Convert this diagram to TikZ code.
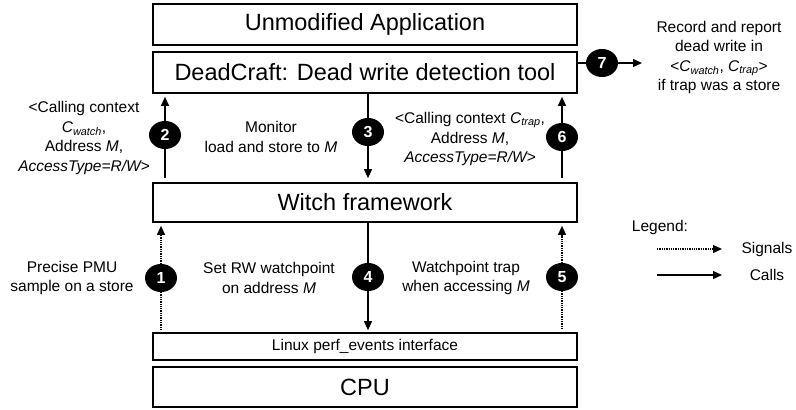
\documentclass[tikz,border=0pt]{standalone}
\usepackage{fontspec}
\setmainfont{Liberation Sans}
\usetikzlibrary{arrows.meta, shapes.geometric}

\newcommand{\cwatch}{\textit{C}\textsubscript{\textit{watch}}}
\newcommand{\ctrap}{\textit{C}\textsubscript{\textit{trap}}}

\tikzset{
  layer/.style={draw, line width=1.7pt, minimum width=424pt, inner sep=0pt,
    font=\fontsize{23.5}{27}\selectfont},
  stepnum/.style={ellipse, fill=black, text=white, minimum width=32pt,
    minimum height=28pt, inner sep=0pt, font=\fontsize{16}{16}\selectfont\bfseries},
  lbl/.style={align=center, font=\fontsize{15.5}{19.5}\selectfont},
  callline/.style={line width=1.3pt},
  sigline/.style={line width=1.3pt, densely dotted},
  call/.style={callline, -{Triangle[length=9pt,width=8pt]}},
  signal/.style={sigline, -{Triangle[length=9pt,width=8pt]}},
}

\begin{document}
\begin{tikzpicture}[x=1pt, y=-1pt]
    \useasboundingbox (0,0) rectangle (796,410);

    % Các tầng
    \node[layer, minimum height=41pt] (app) at (365,24.5) {Unmodified Application};
    \node[layer, minimum height=41pt] (dead) at (365,72.5) {DeadCraft: Dead write detection tool};
    \node[layer, minimum height=39pt] (witch) at (365,202.5) {Witch framework};
    \node[layer, minimum height=27pt, font=\fontsize{15.5}{18}\selectfont] (perf) at (365,346.5) {Linux perf\_events interface};
    \node[layer, minimum height=40pt] (cpu) at (365,387) {CPU};

    % Các bước đánh số
    \node[stepnum] (n1) at (161,278) {1};
    \node[stepnum] (n2) at (165,135) {2};
    \node[stepnum] (n3) at (368,132) {3};
    \node[stepnum] (n4) at (368,277) {4};
    \node[stepnum] (n5) at (562,277) {5};
    \node[stepnum] (n6) at (562,137) {6};
    \node[stepnum] (n7) at (602,63) {7};

    % Nhãn
    \node[lbl] (l1) at (72,278) {Precise PMU\\sample on a store};
    \node[lbl] (l2) at (84,138) {<Calling context\\\cwatch,\\Address \textit{M},\\\textit{AccessType=R/W>}};
    \node[lbl] (l3) at (271,137) {Monitor\\load and store to \textit{M}};
    \node[lbl] (l4) at (269,278) {Set RW watchpoint\\on address \textit{M}};
    \node[lbl] (l5) at (466,278) {Watchpoint trap\\when accessing \textit{M}};
    \node[lbl] (l6) at (470,139) {<Calling context \ctrap,\\Address \textit{M},\\\textit{AccessType=R/W>}};
    \node[lbl] (l7) at (719,57.5) {Record and report\\dead write in\\<\cwatch, \ctrap>\\if trap was a store};

    % Mũi tên giữa các tầng
    \draw[sigline, shorten <=2pt] (perf.north -| n1) -- (n1);
    \draw[signal, shorten >=3pt] (n1) -- (witch.south -| n1);
    \draw[callline, shorten <=4pt] (witch.north -| n2) -- (n2);
    \draw[call, shorten >=3pt] (n2) -- (dead.south -| n2);
    \draw[callline] (dead.south -| n3) -- (n3);
    \draw[call, shorten >=4pt] (n3) -- (witch.north -| n3);
    \draw[callline] (witch.south -| n4) -- (n4);
    \draw[call, shorten >=2pt] (n4) -- (perf.north -| n4);
    \draw[sigline, shorten <=3pt] (perf.north -| n5) -- (n5);
    \draw[signal, shorten >=3pt] (n5) -- (witch.south -| n5);
    \draw[callline, shorten <=4pt] (witch.north -| n6) -- (n6);
    \draw[call, shorten >=3pt] (n6) -- (dead.south -| n6);

    % Bước 7
    \coordinate (out7) at (642,63);
    \draw[callline] (dead.east |- n7) -- (n7);
    \draw[call] (n7) -- (out7);

    % Chú giải
    \node[lbl] (leg) at (660,227) {Legend:};
    \coordinate (sigA) at (657,249);
    \coordinate (sigB) at (722,249);
    \coordinate (callA) at (657,275);
    \coordinate (callB) at (722,275);
    \draw[signal] (sigA) -- (sigB);
    \draw[call] (callA) -- (callB);
    \node[lbl] (legsig) at (767,249) {Signals};
    \node[lbl] (legcall) at (767,275) {Calls};
\end{tikzpicture}
\end{document}
